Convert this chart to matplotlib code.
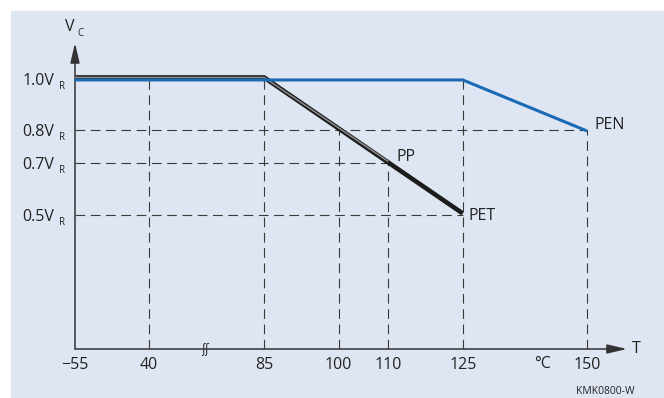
import matplotlib
matplotlib.use("Agg")
import matplotlib.pyplot as plt
import matplotlib.transforms as mtransforms
from matplotlib.patches import Rectangle
import numpy as np

# curves (temperature in degC, Vc as fraction of VR)
pen_t = [-55, 125, 150]
pen_v = [1.0, 1.0, 0.8]
pet_t = [-55, 85, 125]
pet_v = [1.0, 1.0, 0.5]
pp_t = [-55, 85, 110]
pp_v = [1.0, 1.0, 0.7]

tick_t = [-55, 40, 85, 100, 110, 125, 150]
tick_labels = ["\u221255", "40", "85", "100", "110", "125", "150"]
vc_levels = [0.5, 0.7, 0.8, 1.0]
vc_labels = ["0.5V", "0.7V", "0.8V", "1.0V"]

# dashed helper lines
vgrid_t = [40, 85, 100, 110, 125, 150]
vgrid_top = [1.0, 1.0, 0.8, 0.7, 1.0, 0.8]
hgrid_v = [0.8, 0.7, 0.5]
hgrid_end = [150, 110, 125]

# the drawing is not to scale: piecewise axes
x_knots = [-55, 40, 85, 175]
x_pos = [0, 74, 189, 636]
y_knots = [0, 0.5, 0.7, 0.8, 1.0, 1.3]
y_pos = [0, 134, 186, 219, 270, 346.5]

plt.rcParams["font.family"] = ["Open Sans", "DejaVu Sans"]
plt.rcParams["lines.scale_dashes"] = False

W, H = 664, 398
fig = plt.figure(figsize=(W / 100, H / 100), dpi=100)
fig.patch.set_facecolor("white")
fig.patches.append(Rectangle((11 / W, 0), 1, 1 - 11 / H, transform=fig.transFigure,
                             color="#dfe6f3", zorder=-10))

ax = fig.add_axes([75 / W, 49 / H, 552 / W, 306 / H])
ax.set_facecolor("none")
ax.set_xscale("function", functions=(lambda t: np.interp(t, x_knots, x_pos),
                                     lambda p: np.interp(p, x_pos, x_knots)))
ax.set_yscale("function", functions=(lambda v: np.interp(v, y_knots, y_pos),
                                     lambda p: np.interp(p, y_pos, y_knots)))
ax.set_xlim(-55, 158.05)
ax.set_ylim(0, 1.141)
for s in ax.spines.values():
    s.set_visible(False)

dash = (0, (7, 4))
gc = "#3a3a3a"
ax.vlines(vgrid_t, 0, vgrid_top, colors=gc, lw=0.8, linestyles=[dash])
ax.hlines(hgrid_v, -55, hgrid_end, colors=gc, lw=0.8, linestyles=[dash])

up = mtransforms.offset_copy(ax.transData, fig, 0, 1.5, units="dots")
dn = mtransforms.offset_copy(ax.transData, fig, 0, -1, units="dots")
ax.plot(pet_t, pet_v, color="#1c1c1c", lw=3.3, transform=up, solid_joinstyle="miter",
        solid_capstyle="butt", zorder=3)
ax.plot(pp_t, pp_v, color="#8c8c8c", lw=1.1, transform=up, solid_joinstyle="miter",
        solid_capstyle="butt", zorder=4)
ax.plot(pen_t, pen_v, color="#1a6ab4", lw=2.2, transform=dn, solid_joinstyle="miter",
        solid_capstyle="butt", zorder=5)

fs = 11.5
ax.text(110, 0.7, "PP", transform=mtransforms.offset_copy(ax.transData, fig, 8, 6, units="dots"),
        fontsize=fs, ha="left", va="center", color="#222")
ax.text(125, 0.5, "PET", transform=mtransforms.offset_copy(ax.transData, fig, 6, -1, units="dots"),
        fontsize=fs, ha="left", va="center", color="#222")
ax.text(150, 0.8, "PEN", transform=mtransforms.offset_copy(ax.transData, fig, 7, 5, units="dots"),
        fontsize=fs, ha="left", va="center", color="#222")

# axes with arrow heads
ac = "#333333"
ap = dict(arrowstyle="-|>,head_length=1.2,head_width=0.28", lw=1.1, color=ac,
          shrinkA=0, shrinkB=0, mutation_scale=10)
ax.annotate("", xy=(1, 0), xytext=(0, 0), xycoords="axes fraction", arrowprops=ap)
ax.annotate("", xy=(0, 1), xytext=(0, 0), xycoords="axes fraction", arrowprops=ap)

ax.set_xticks(tick_t)
ax.set_xticklabels(tick_labels)
ax.set_yticks([])
ax.tick_params(axis="x", length=0, pad=6, labelsize=fs, labelcolor="#222")
ax.minorticks_off()

ytr = ax.get_yaxis_transform()
for v, lab in zip(vc_levels, vc_labels):
    ax.annotate(lab, xy=(0, v), xycoords=ytr, xytext=(-21, -2), textcoords="offset pixels",
                ha="right", va="center", fontsize=fs, color="#222")
    ax.annotate("R", xy=(0, v), xycoords=ytr, xytext=(-13, -8), textcoords="offset pixels",
                ha="center", va="center", fontsize=7, color="#222")

ax.annotate("V", xy=(0, 1), xycoords="axes fraction", xytext=(-5, 16), textcoords="offset pixels",
            ha="center", va="center", fontsize=fs, color="#222")
ax.annotate("C", xy=(0, 1), xycoords="axes fraction", xytext=(5, 10), textcoords="offset pixels",
            ha="center", va="center", fontsize=7, color="#222")
ax.annotate("T", xy=(1, 0), xycoords="axes fraction", xytext=(9, 0), textcoords="offset pixels",
            ha="center", va="center", fontsize=fs, color="#222")

xtr = ax.get_xaxis_transform()
ax.annotate("\u00b0C", xy=(141, 0), xycoords=xtr, xytext=(0, -15), textcoords="offset pixels",
            ha="center", va="center", fontsize=fs, color="#222")
ax.annotate("\u0283\u0283", xy=(62, 0), xycoords=xtr, xytext=(0, 0), textcoords="offset pixels",
            ha="center", va="center", fontsize=8.5, color="#333", family="DejaVu Sans")

fig.text(635 / W, 1 - 392 / H, "KMK0800-W", ha="right", va="center", fontsize=7.5, color="#222")

fig.savefig("out.png", dpi=100)
